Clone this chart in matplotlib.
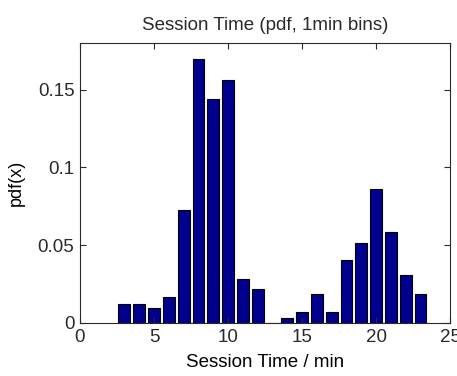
import matplotlib
matplotlib.use("Agg")
import matplotlib.pyplot as plt

minutes = list(range(3, 24))
pdf = [0.0122, 0.0122, 0.0094, 0.0169, 0.0724, 0.1697, 0.1440, 0.1560,
       0.0280, 0.0216, 0.0, 0.0030, 0.0073, 0.0186, 0.0073, 0.0402,
       0.0511, 0.0861, 0.0585, 0.0306, 0.0186]

plt.rcParams["font.family"] = ["Liberation Sans", "DejaVu Sans"]
plt.rcParams["text.color"] = "#2a2a2a"
plt.rcParams["axes.edgecolor"] = "#2a2a2a"
plt.rcParams["xtick.color"] = "#2a2a2a"
plt.rcParams["ytick.color"] = "#2a2a2a"

fig = plt.figure(figsize=(4.57, 3.76), dpi=100)
ax = fig.add_axes([0.175, 0.141, 0.81, 0.745])
ax.bar(minutes, pdf, width=0.8, color="#00008f", edgecolor="black", linewidth=0.8)
ax.set_xlim(0, 25)
ax.set_ylim(0, 0.18)
ax.set_xticks([0, 5, 10, 15, 20, 25])
ax.set_yticks([0, 0.05, 0.1, 0.15])
ax.set_yticklabels(["0", "0.05", "0.1", "0.15"])
ax.tick_params(direction="in", top=True, right=True, length=4, labelsize=13.5, pad=4)
ax.set_title("Session Time (pdf, 1min bins)", fontsize=13.5, pad=9)
ax.set_xlabel("Session Time / min", fontsize=13.5, labelpad=6)
ax.set_ylabel("pdf(x)", fontsize=13, labelpad=9)
fig.savefig("out.png", dpi=100)
